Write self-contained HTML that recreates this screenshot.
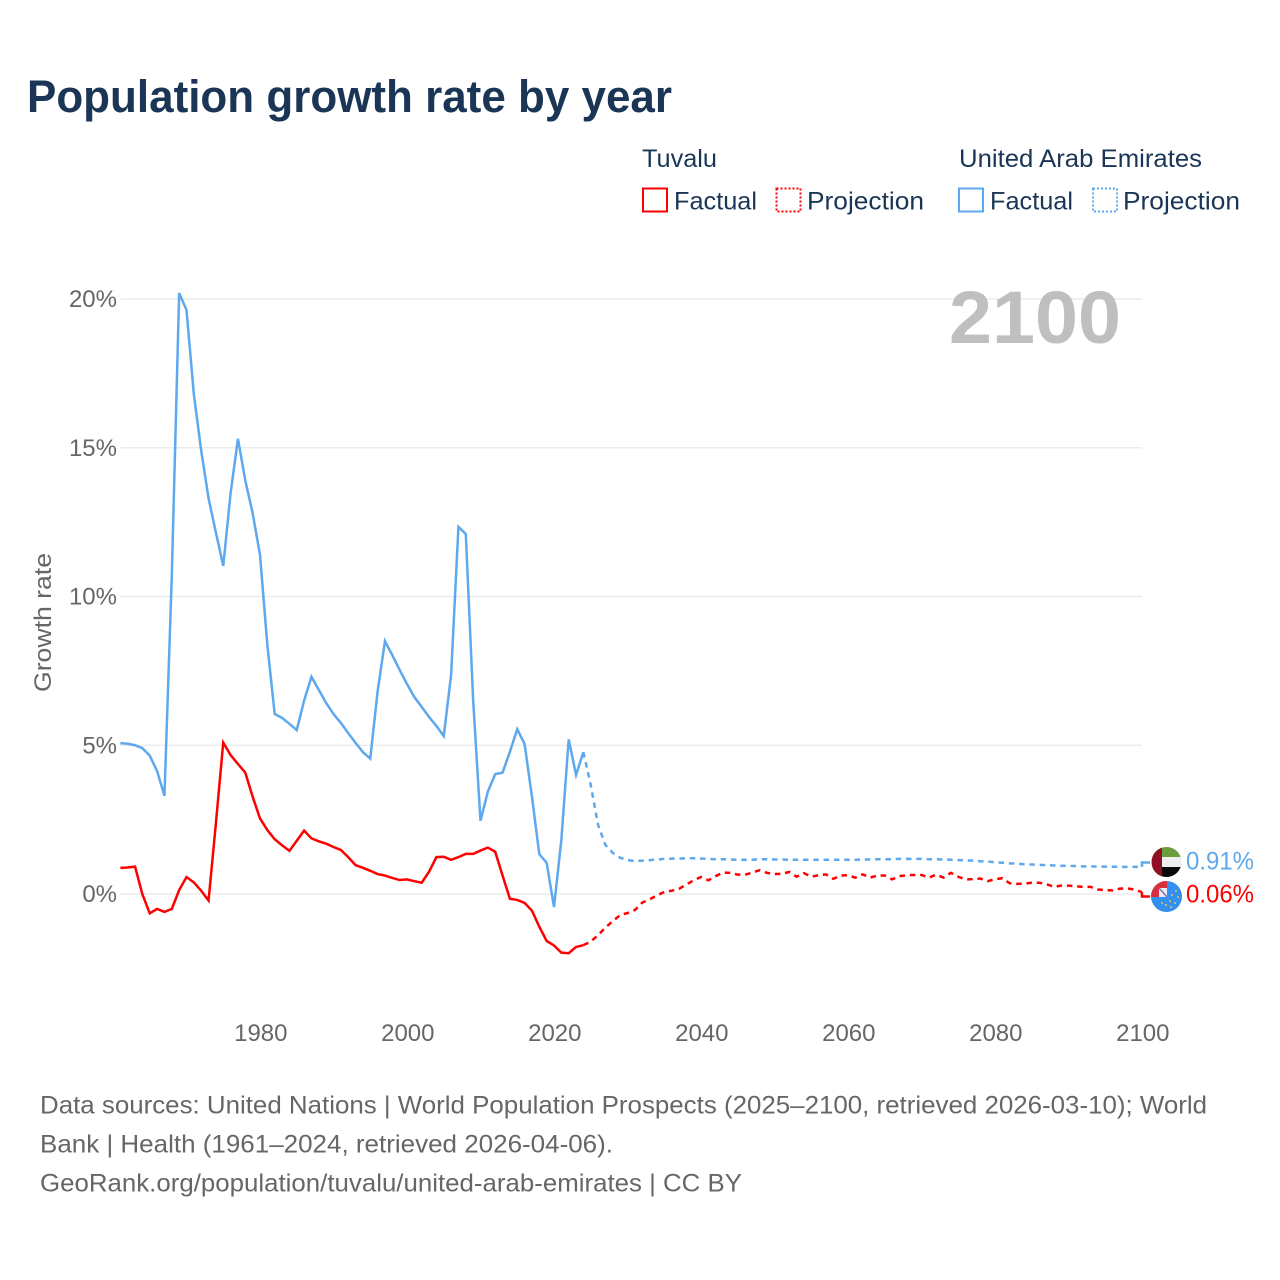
<!DOCTYPE html>
<html lang="en">
<head>
<meta charset="utf-8">
<title>Population growth rate by year</title>
<style>
html,body{margin:0;padding:0;background:#fff;}
svg{display:block;font-family:"Liberation Sans",sans-serif;}
</style>
</head>
<body>
<svg id="chart" xmlns="http://www.w3.org/2000/svg" width="1280" height="1280" viewBox="0 0 1280 1280">
  <defs>
    <clipPath id="clip-uae"><circle cx="1166.5" cy="862" r="15"/></clipPath>
    <clipPath id="clip-tuv"><circle cx="1166.5" cy="896.5" r="15.5"/></clipPath>
  </defs>
  <rect x="0" y="0" width="1280" height="1280" fill="#fff"/>
  <text x="27" y="112" font-size="45" font-weight="700" fill="#1a3555" textLength="645" lengthAdjust="spacingAndGlyphs">Population growth rate by year</text>

  <g font-size="25" fill="#1a3555">
    <text x="642" y="167" textLength="75" lengthAdjust="spacingAndGlyphs">Tuvalu</text>
    <text x="959" y="167" textLength="243" lengthAdjust="spacingAndGlyphs">United Arab Emirates</text>
    <rect x="643" y="188.5" width="24" height="23" fill="none" stroke="#ff0000" stroke-width="2"/>
    <text x="674" y="209.5" textLength="83" lengthAdjust="spacingAndGlyphs">Factual</text>
    <rect x="776.5" y="188.5" width="24" height="23" fill="none" stroke="#ff0000" stroke-width="2" stroke-dasharray="2 2"/>
    <text x="807" y="209.5" textLength="117" lengthAdjust="spacingAndGlyphs">Projection</text>
    <rect x="959" y="188.5" width="24" height="23" fill="none" stroke="#5ea8ee" stroke-width="2"/>
    <text x="990" y="209.5" textLength="83" lengthAdjust="spacingAndGlyphs">Factual</text>
    <rect x="1093" y="188.5" width="24" height="23" fill="none" stroke="#5ea8ee" stroke-width="2" stroke-dasharray="2 2"/>
    <text x="1123" y="209.5" textLength="117" lengthAdjust="spacingAndGlyphs">Projection</text>
  </g>

  <g id="grid"></g>
  <g id="yticks" font-size="24" fill="#666" text-anchor="end"></g>
  <g id="xticks" font-size="24" fill="#666" text-anchor="middle"></g>
  <text transform="translate(51,622.5) rotate(-90)" font-size="24" fill="#666" text-anchor="middle" textLength="139" lengthAdjust="spacingAndGlyphs">Growth rate</text>
  <text x="949" y="343" font-size="74" font-weight="700" fill="#bfbfbf" textLength="172" lengthAdjust="spacingAndGlyphs">2100</text>

  <g id="series"></g>

  <g clip-path="url(#clip-uae)">
    <rect x="1151" y="847" width="31" height="10" fill="#6a9e3a"/>
    <rect x="1151" y="857" width="31" height="10" fill="#eeeeee"/>
    <rect x="1151" y="867" width="31" height="10" fill="#0a0a0a"/>
    <rect x="1151" y="847" width="11" height="30" fill="#8f1024"/>
  </g>
  <g clip-path="url(#clip-tuv)">
    <rect x="1150" y="880" width="33" height="33" fill="#3390ee"/>
    <rect x="1150" y="880" width="17" height="17" fill="#d8303c"/>
    <rect x="1159" y="888" width="8" height="9" fill="#eeeaf0"/>
    <path d="M1159 888 L1167 897" stroke="#6a7fc0" stroke-width="1.5"/>
    <g fill="#d8c860">
      <circle cx="1176" cy="891" r="1"/><circle cx="1172" cy="895" r="1"/><circle cx="1178" cy="897" r="1"/>
      <circle cx="1170" cy="901" r="1"/><circle cx="1175" cy="903" r="1"/><circle cx="1166" cy="905" r="1"/>
      <circle cx="1171" cy="907" r="1"/><circle cx="1162" cy="903" r="1"/>
    </g>
  </g>
  <text x="1186" y="869.5" font-size="25" fill="#5ea8ee" textLength="68" lengthAdjust="spacingAndGlyphs">0.91%</text>
  <text x="1186" y="902.5" font-size="25" fill="#ff0000" textLength="68" lengthAdjust="spacingAndGlyphs">0.06%</text>

  <g font-size="25" fill="#666">
    <text x="40" y="1113.5" textLength="1167" lengthAdjust="spacingAndGlyphs">Data sources: United Nations | World Population Prospects (2025–2100, retrieved 2026-03-10); World</text>
    <text x="40" y="1152.5" textLength="573" lengthAdjust="spacingAndGlyphs">Bank | Health (1961–2024, retrieved 2026-04-06).</text>
    <text x="40" y="1191.5" textLength="702" lengthAdjust="spacingAndGlyphs">GeoRank.org/population/tuvalu/united-arab-emirates | CC BY</text>
  </g>
</svg>
<script>
const xTickYears = [1980, 2000, 2020, 2040, 2060, 2080, 2100];
const yTickValues = [0, 5, 10, 15, 20];
const factualStartYear = 1961;
const projectionStartYear = 2024;

const uaeFactual = [5.07,5.05,5.0,4.9,4.65,4.13,3.3,10.7,20.2,19.63,16.8,14.9,13.3,12.15,11.03,13.47,15.3,13.9,12.8,11.4,8.37,6.05,5.92,5.72,5.51,6.5,7.3,6.86,6.42,6.05,5.75,5.41,5.08,4.77,4.55,6.8,8.5,8.03,7.53,7.06,6.62,6.29,5.95,5.65,5.31,7.36,12.34,12.1,6.52,2.46,3.44,4.03,4.08,4.78,5.54,5.04,3.27,1.34,1.05,-0.44,1.82,5.2,4.0,4.77];
const uaeProjection = [4.77,3.66,2.32,1.65,1.38,1.22,1.14,1.11,1.12,1.14,1.16,1.18,1.19,1.19,1.2,1.2,1.19,1.18,1.17,1.17,1.16,1.15,1.15,1.15,1.17,1.17,1.16,1.16,1.15,1.15,1.15,1.15,1.15,1.15,1.15,1.15,1.15,1.15,1.16,1.16,1.17,1.17,1.17,1.18,1.18,1.18,1.18,1.17,1.17,1.16,1.15,1.14,1.13,1.12,1.1,1.09,1.07,1.05,1.03,1.02,1,0.99,0.98,0.97,0.96,0.95,0.94,0.94,0.93,0.93,0.92,0.92,0.92,0.91,0.91,0.91,0.91];
const tuvaluFactual = [0.88,0.89,0.92,-0.01,-0.65,-0.5,-0.6,-0.5,0.13,0.57,0.39,0.11,-0.22,2.38,5.09,4.67,4.37,4.08,3.27,2.54,2.15,1.84,1.64,1.45,1.79,2.13,1.87,1.77,1.69,1.58,1.48,1.24,0.97,0.88,0.78,0.67,0.62,0.54,0.47,0.49,0.43,0.38,0.75,1.24,1.25,1.15,1.24,1.35,1.35,1.46,1.56,1.42,0.62,-0.16,-0.2,-0.3,-0.56,-1.1,-1.58,-1.73,-1.97,-1.99,-1.78,-1.72];
const tuvaluProjection = [-1.72,-1.6,-1.38,-1.13,-0.91,-0.71,-0.64,-0.54,-0.29,-0.18,-0.05,0.07,0.11,0.17,0.32,0.46,0.57,0.46,0.6,0.72,0.71,0.65,0.65,0.72,0.8,0.71,0.67,0.68,0.74,0.58,0.7,0.58,0.63,0.66,0.51,0.62,0.63,0.55,0.66,0.55,0.62,0.62,0.49,0.6,0.63,0.64,0.64,0.55,0.65,0.55,0.71,0.58,0.49,0.5,0.52,0.43,0.5,0.53,0.36,0.34,0.35,0.38,0.38,0.33,0.24,0.28,0.28,0.26,0.24,0.24,0.15,0.13,0.12,0.18,0.19,0.15,0.06];

const SVG_NS = 'http://www.w3.org/2000/svg';
const blue = '#5ea8ee';
const red = '#ff0000';
function xScale(year) { return 1142 - (2100 - year) * 7.35; }
function yScale(v) { return 894 - v * 29.75; }

const grid = document.getElementById('grid');
const yticks = document.getElementById('yticks');
const xticks = document.getElementById('xticks');
const seriesGroup = document.getElementById('series');

yTickValues.forEach(function (v) {
  const line = document.createElementNS(SVG_NS, 'line');
  
  
  line.setAttribute('x1', xScale(1961));
  line.setAttribute('x2', xScale(2100));
  line.setAttribute('y1', yScale(v));
  line.setAttribute('y2', yScale(v));
  line.setAttribute('stroke', '#ececec');
  line.setAttribute('stroke-width', '1.5');
  grid.appendChild(line);
  const label = document.createElementNS(SVG_NS, 'text');
  
  
  label.setAttribute('x', 117);
  label.setAttribute('y', yScale(v) + 8);
  label.textContent = v + '%';
  yticks.appendChild(label);
});

xTickYears.forEach(function (year) {
  const label = document.createElementNS(SVG_NS, 'text');
  
  
  label.setAttribute('x', xScale(year) + 0.8);
  label.setAttribute('y', 1041);
  label.textContent = year;
  xticks.appendChild(label);
});

function pathFrom(values, startYear) {
  return values.map(function (v, i) {
    return (i ? 'L' : 'M') + xScale(startYear + i).toFixed(2) + ' ' + yScale(v).toFixed(2);
  }).join(' ');
}
function addLine(d, color, dashed, name) {
  const p = document.createElementNS(SVG_NS, 'path');
  
  
  p.setAttribute('d', d);
  p.setAttribute('fill', 'none');
  p.setAttribute('stroke', color);
  p.setAttribute('stroke-width', '2.5');
  p.setAttribute('stroke-linejoin', 'miter');
  if (dashed) p.setAttribute('stroke-dasharray', '5.5 4.8');
  seriesGroup.appendChild(p);
}
addLine(pathFrom(uaeFactual, factualStartYear), blue, false, 'uae-factual-line');
addLine(pathFrom(uaeProjection, projectionStartYear), blue, true, 'uae-projection-line');
addLine(pathFrom(tuvaluFactual, factualStartYear), red, false, 'tuvalu-factual-line');
addLine(pathFrom(tuvaluProjection, projectionStartYear), red, true, 'tuvalu-projection-line');

const endX = xScale(2100);
const uaeEndY = yScale(uaeProjection[uaeProjection.length - 1]);
const tuvaluEndY = yScale(tuvaluProjection[tuvaluProjection.length - 1]);
addLine('M' + endX + ' ' + uaeEndY + ' V862.5 H1150', blue, false, 'uae-end-connector');
addLine('M' + endX + ' ' + tuvaluEndY + ' V896.5 H1150', red, false, 'tuvalu-end-connector');
</script>
</body>
</html>
